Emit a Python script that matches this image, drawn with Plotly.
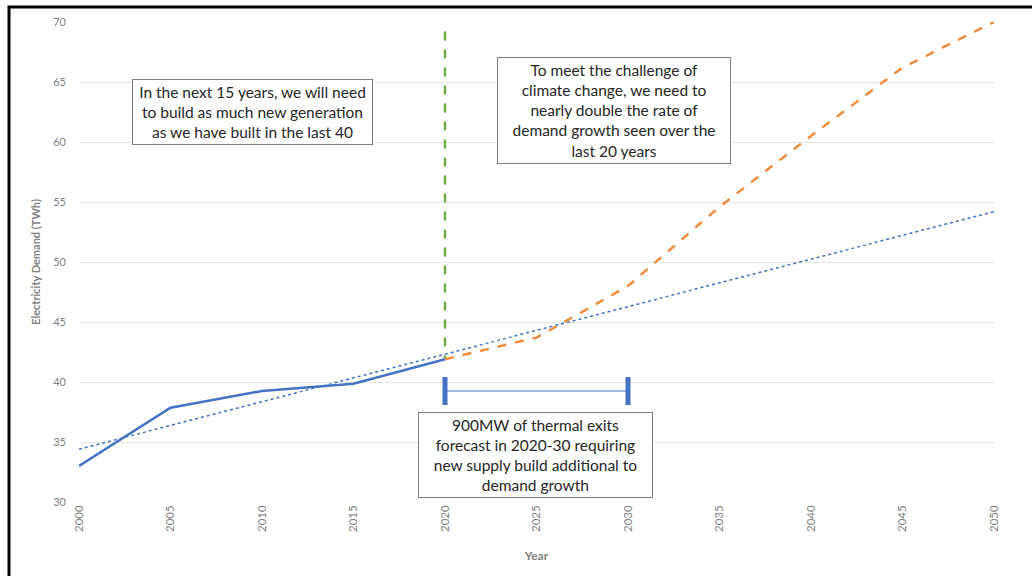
import plotly.graph_objects as go

years_actual = [2000, 2005, 2010, 2015, 2020]
demand_actual = [33.0, 37.85, 39.25, 39.85, 41.9]

years_forecast = [2020, 2025, 2030, 2035, 2040, 2045, 2050]
demand_forecast = [41.9, 43.7, 48.0, 54.6, 60.5, 66.2, 70.0]

trend_years = [2000, 2050]
trend_values = [34.4, 54.2]

marker_year = [2020, 2020]
marker_range = [69.2, 42.0]

exit_years = [2020, 2030]
exit_level = [39.25, 39.25]

x_ticks = [2000, 2005, 2010, 2015, 2020, 2025, 2030, 2035, 2040, 2045, 2050]
y_ticks = [30, 35, 40, 45, 50, 55, 60, 65, 70]

blue = "#4472C4"
orange = "#F28C3C"
green = "#70AD47"
gray = "#7F7F7F"

fig = go.Figure()
fig.add_trace(go.Scatter(x=trend_years, y=trend_values, mode="lines",
                         line=dict(color=blue, width=1.5, dash="dot"), showlegend=False))
fig.add_trace(go.Scatter(x=years_forecast, y=demand_forecast, mode="lines",
                         line=dict(color=orange, width=2.5, dash="dash"), showlegend=False))
fig.add_trace(go.Scatter(x=years_actual, y=demand_actual, mode="lines",
                         line=dict(color=blue, width=2.5), showlegend=False))
fig.add_trace(go.Scatter(x=marker_year, y=marker_range, mode="lines",
                         line=dict(color=green, width=2.5, dash="dash"), showlegend=False))
fig.add_trace(go.Scatter(x=exit_years, y=exit_level, mode="lines+markers",
                         line=dict(color=blue, width=1),
                         marker=dict(symbol="line-ns", size=20,
                                     line=dict(color=blue, width=5)),
                         showlegend=False))

font_ann = dict(family="Lato, Open Sans, sans-serif", size=15.5, color="#262626")
box = dict(bordercolor="#7F7F7F", borderwidth=1, bgcolor="white", showarrow=False,
           xref="paper", yref="paper", font=font_ann, align="center",
           xanchor="center", yanchor="middle", borderpad=3)

def px2paper(px, py):
    return (px - 79) / 915, 1 - (py - 22) / 480

x1, y1 = px2paper(252, 112)
fig.add_annotation(x=x1, y=y1, width=233,
                   text="In the next 15 years, we will need<br>to build as much new generation<br>as we have built in the last 40",
                   **box)
x2, y2 = px2paper(614, 110)
fig.add_annotation(x=x2, y=y2, width=226,
                   text="To meet the challenge of<br>climate change, we need to<br>nearly double the rate of<br>demand growth seen over the<br>last 20 years",
                   **box)
x3, y3 = px2paper(535, 455)
fig.add_annotation(x=x3, y=y3, width=227,
                   text="900MW of thermal exits<br>forecast in 2020-30 requiring<br>new supply build additional to<br>demand growth",
                   **box)

fig.add_shape(type="rect", xref="paper", yref="paper",
              x0=(9 - 79) / 915, x1=1.2, y0=-0.3, y1=1 + 15 / 480,
              line=dict(color="black", width=3), fillcolor="rgba(0,0,0,0)", layer="above")

fig.update_layout(
    width=1032, height=576,
    margin=dict(l=79, r=38, t=22, b=74),
    paper_bgcolor="white", plot_bgcolor="white",
    font=dict(family="Lato, Open Sans, sans-serif", color=gray, size=11),
    xaxis=dict(range=[2000, 2050], tickvals=x_ticks, ticktext=[str(t) for t in x_ticks],
               tickangle=-90, showgrid=False, zeroline=False, showline=False,
               tickfont=dict(size=11.5, color=gray),
               title=dict(text="<b>Year</b>", font=dict(size=12, color=gray), standoff=20)),
    yaxis=dict(range=[30, 70], tickvals=y_ticks, showgrid=True, gridcolor="#E5E5E5",
               zeroline=False, showline=False, ticks="", ticklabelstandoff=12,
               tickfont=dict(size=11, color=gray),
               title=dict(text="<b>Electricity Demand (TWh)</b>", font=dict(size=11, color=gray), standoff=10)),
)

fig.write_html("out.html")
